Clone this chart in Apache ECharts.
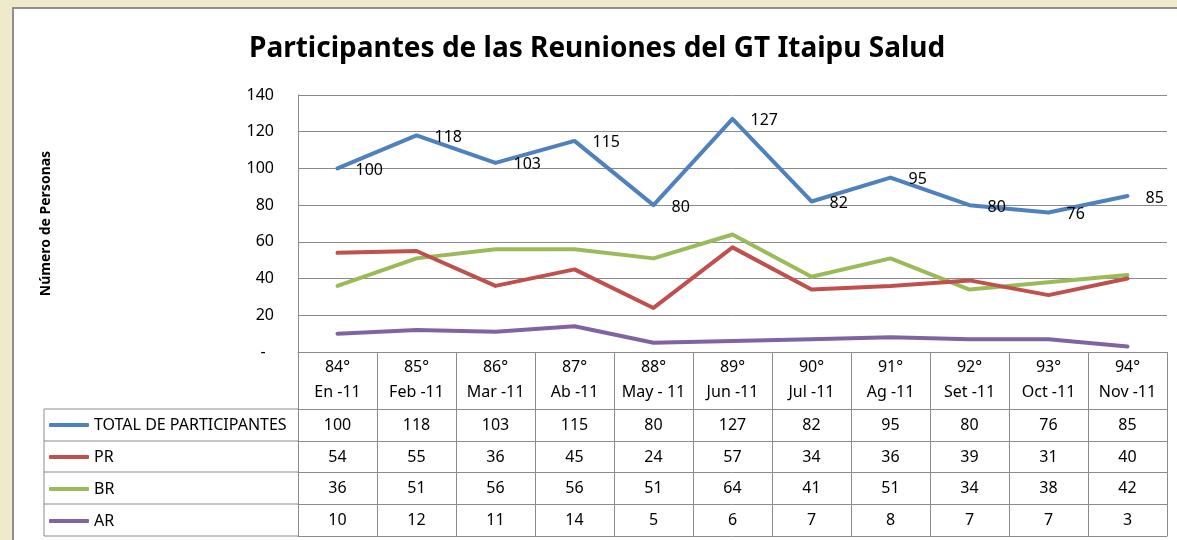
<!DOCTYPE html>
<html>
<head>
<meta charset="utf-8">
<script src="https://cdn.jsdelivr.net/npm/echarts@6/dist/echarts.min.js"></script>
<style>
  html, body { margin: 0; padding: 0; background: #eeeacb; }
  #chart { width: 1177px; height: 540px; }
</style>
</head>
<body>
<div id="chart"></div>
<script>
// categorias (reunion + mes)
const categories = ['84°\nEn -11', '85°\nFeb -11', '86°\nMar -11', '87°\nAb -11', '88°\nMay - 11', '89°\nJun -11',
                    '90°\nJul -11', '91°\nAg -11', '92°\nSet -11', '93°\nOct -11', '94°\nNov -11'];
const seriesNames = ['TOTAL DE PARTICIPANTES', 'PR', 'BR', 'AR'];
const total = [100, 118, 103, 115, 80, 127, 82, 95, 80, 76, 85];
const pr    = [54, 55, 36, 45, 24, 57, 34, 36, 39, 31, 40];
const br    = [36, 51, 56, 56, 51, 64, 41, 51, 34, 38, 42];
const ar    = [10, 12, 11, 14, 5, 6, 7, 8, 7, 7, 3];
const colors = ['#4f81bd', '#c0504d', '#9bbb59', '#8064a2'];

// layout
const L = 298, R = 1167, T = 95, B = 352;
const TAB_LEFT = 44;
const rowOffsets = [57, 89, 120, 152, 184];   // lineas horizontales de la tabla (debajo del eje)
const borderColor = '#8c8c8c';

const chart = echarts.init(document.getElementById('chart'));
const rows = [total, pr, br, ar];

// ejes x extra = filas de la tabla
let xAxes = [{
    type: 'category', data: categories, position: 'bottom', gridIndex: 0,
    axisLine: { show: true, lineStyle: { color: borderColor, width: 1 } },
    axisTick: { show: true, interval: 0, length: rowOffsets[4], lineStyle: { color: borderColor } },
    axisLabel: { interval: 0, margin: 3, fontSize: 16, lineHeight: 25, color: '#000', fontFamily: 'Noto Sans' },
    splitLine: { show: false }
}];
rows.forEach((vals, i) => {
    xAxes.push({
        type: 'category', data: categories, position: 'bottom', gridIndex: 0, offset: rowOffsets[i],
        axisLine: { show: true, lineStyle: { color: borderColor } },
        axisTick: { show: false },
        axisLabel: { interval: 0, margin: 8, fontSize: 16, color: '#000', fontFamily: 'Noto Sans',
                     formatter: (v, idx) => String(vals[idx]) },
        splitLine: { show: false }
    });
});
xAxes.push({
    type: 'category', data: categories, position: 'bottom', gridIndex: 0, offset: rowOffsets[4],
    axisLine: { show: true, lineStyle: { color: borderColor } },
    axisTick: { show: false }, axisLabel: { show: false }
});

// bordes de la columna de leyenda
let graphics = [{
    type: 'rect', z: -100, shape: { x: 13, y: 8, width: 1200, height: 600 },
    style: { fill: '#ffffff', stroke: '#8f8f8f', lineWidth: 2 }
}];
rowOffsets.forEach((off) => {
    graphics.push({ type: 'line', shape: { x1: TAB_LEFT, y1: B + off, x2: L, y2: B + off },
                    style: { stroke: borderColor, lineWidth: 1 } });
});
graphics.push({ type: 'line', shape: { x1: TAB_LEFT, y1: B + rowOffsets[0], x2: TAB_LEFT, y2: B + rowOffsets[4] },
                style: { stroke: borderColor, lineWidth: 1 } });

let option = {
    backgroundColor: '#eeeacb',
    animation: false,
    textStyle: { fontFamily: 'Noto Sans' },
    title: {
        text: 'Participantes de las Reuniones del GT Itaipu Salud',
        left: 249, top: 35, padding: 0,
        textStyle: { fontSize: 28, fontWeight: 'bold', color: '#000', fontFamily: 'Noto Sans' }
    },
    grid: { left: L, right: 1177 - R, top: T, bottom: 540 - B, containLabel: false },
    legend: {
        data: seriesNames, orient: 'vertical', left: 49, top: B + rowOffsets[0] + 5, padding: 0,
        icon: 'roundRect', itemWidth: 40, itemHeight: 4, itemGap: 10,
        textStyle: { fontSize: 16, lineHeight: 22, color: '#000', fontFamily: 'Noto Sans' }
    },
    xAxis: xAxes,
    yAxis: {
        type: 'value', min: 0, max: 140, interval: 20,
        name: 'Número de Personas', nameLocation: 'middle', nameRotate: 90, nameGap: 245,
        nameTextStyle: { fontSize: 14, fontWeight: 'bold', color: '#000' },
        axisLine: { show: true, lineStyle: { color: borderColor } },
        axisTick: { show: false },
        axisLabel: { fontSize: 16, color: '#000', margin: 24, formatter: v => v === 0 ? '-  ' : v },
        splitLine: { show: true, lineStyle: { color: '#898989', width: 1 } }
    },
    graphic: graphics,
    series: rows.map((vals, i) => ({
        name: seriesNames[i], type: 'line', data: vals, xAxisIndex: 0,
        showSymbol: i === 0, symbol: 'circle', symbolSize: 0.1,
        lineStyle: { color: colors[i], width: 4, join: 'round', cap: 'round' },
        itemStyle: { color: colors[i] },
        label: i === 0 ? { show: true, position: 'right', distance: 18, offset: [0, 2], fontSize: 16, color: '#000' } : { show: false },
        z: 10 - i
    }))
};
chart.setOption(option);
</script>
</body>
</html>
